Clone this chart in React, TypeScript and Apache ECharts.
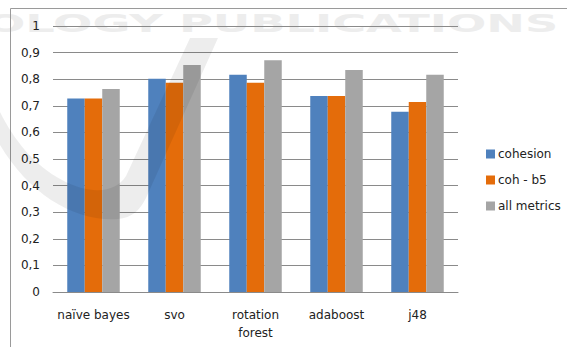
import React, { useEffect, useRef } from "react";
import * as echarts from "echarts";

const categories = ["naïve bayes", "svo", "rotation\nforest", "adaboost", "j48"];
const seriesNames = ["cohesion", "coh - b5", "all metrics"];
const cohesion = [0.727, 0.802, 0.817, 0.737, 0.678];
const cohB5 = [0.727, 0.787, 0.787, 0.737, 0.714];
const allMetrics = [0.763, 0.853, 0.871, 0.835, 0.817];
const colors = ["#4F81BD", "#E46C0A", "#A5A5A5"];
const yTicks = [0, 0.1, 0.2, 0.3, 0.4, 0.5, 0.6, 0.7, 0.8, 0.9, 1];

const swoosh =
  "M 0 145 C 30 195 75 222 118 219 C 132 218 140 210 146 198 L 218 38 L 190 38 L 126 176 C 116 192 92 196 62 180 C 34 165 14 140 0 112 Z";

export default function App() {
  const ref = useRef<HTMLDivElement>(null);
  useEffect(() => {
    if (!ref.current) return;
    try {
      echarts.graphic.registerShape("swoosh", echarts.graphic.extendPath(swoosh, {}) as any);
    } catch (e) {}
    const chart = echarts.init(ref.current, undefined, { renderer: "svg" });
    const font = "DejaVu Sans";
    const data = [cohesion, cohB5, allMetrics];
    chart.setOption({
      animation: false,
      backgroundColor: "#ffffff",
      textStyle: { fontFamily: font },
      grid: { left: 53, right: 109, top: 26, bottom: 55, containLabel: false },
      legend: {
        orient: "vertical",
        left: 481,
        top: 143,
        itemWidth: 9,
        itemHeight: 9,
        itemGap: 14,
        icon: "rect",
        textStyle: { fontFamily: font, fontSize: 12, color: "#222", padding: [0, 0, 0, -2] },
        data: seriesNames,
      },
      xAxis: {
        type: "category",
        data: categories,
        axisLine: { show: true, lineStyle: { color: "#8a8a8a", width: 1 } },
        axisTick: { show: false },
        axisLabel: {
          fontFamily: font,
          fontSize: 12,
          color: "#222",
          margin: 14,
          lineHeight: 18,
          interval: 0,
        },
      },
      yAxis: {
        type: "value",
        min: 0,
        max: 1,
        interval: 0.1,
        axisLine: { show: false },
        axisTick: { show: false },
        splitLine: { show: true, lineStyle: { color: "#8a8a8a", width: 1 } },
        axisLabel: {
          fontFamily: font,
          fontSize: 12,
          color: "#222",
          margin: 13,
          formatter: (v: number) => {
            const t = yTicks.find((x) => Math.abs(x - v) < 1e-6);
            const n = t === undefined ? v : t;
            return n === 0 ? "0" : n === 1 ? "1" : String(Math.round(n * 10) / 10).replace(".", ",");
          },
        },
      },
      series: seriesNames.map((name, i) => ({
        name,
        type: "bar",
        data: data[i],
        barWidth: 17.5,
        barGap: "0%",
        itemStyle: { color: colors[i] },
      })),
      graphic: [
        {
          type: "text",
          x: -14,
          y: 11,
          z: -10,
          silent: true,
          scaleX: 1.85,
          style: {
            text: "OLOGY PUBLICATIONS",
            fontFamily: "DejaVu Sans",
            fontWeight: "bold",
            fontSize: 25,
            fill: "#ededed",
          },
        },
        {
          type: "rect",
          shape: { x: 10.5, y: 8.5, width: 600, height: 400 },
          z: 50,
          silent: true,
          style: { fill: "none", stroke: "#9a9a9a", lineWidth: 1 },
        },
        {
          type: "swoosh",
          x: 0,
          y: 0,
          z: 100,
          silent: true,
          style: { fill: "rgba(0,0,0,0.07)" },
        },
      ],
    });
    return () => chart.dispose();
  }, []);
  return <div ref={ref} style={{ width: 567, height: 347, position: "absolute", left: 0, top: 0 }} />;
}
